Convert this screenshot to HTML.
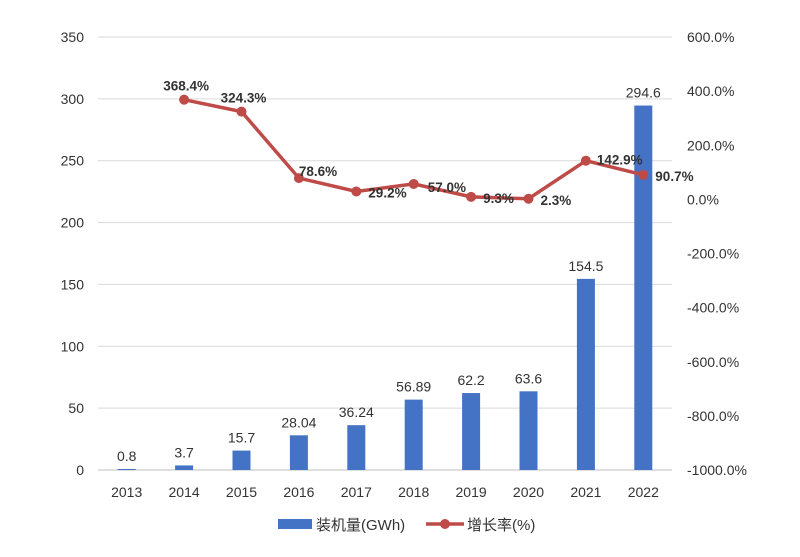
<!DOCTYPE html>
<html><head><meta charset="utf-8"><style>
body{margin:0;background:#fff}
svg text{font-family:"Liberation Sans","Noto Sans CJK SC",sans-serif;fill:#333}
</style></head><body>
<svg id="c" width="800" height="552" viewBox="0 0 800 552"></svg>
<script>
const years=["2013","2014","2015","2016","2017","2018","2019","2020","2021","2022"];
const capacity=[0.8,3.7,15.7,28.04,36.24,56.89,62.2,63.6,154.5,294.6];
const capLabels=["0.8","3.7","15.7","28.04","36.24","56.89","62.2","63.6","154.5","294.6"];
const growth=[null,368.4,324.3,78.6,29.2,57.0,9.3,2.3,142.9,90.7];
const growthLabels=["","368.4%","324.3%","78.6%","29.2%","57.0%","9.3%","2.3%","142.9%","90.7%"];
const leftTicks=[0,50,100,150,200,250,300,350];
const rightTicks=[-1000,-800,-600,-400,-200,0,200,400,600];
const NS="http://www.w3.org/2000/svg";
const svg=document.getElementById('c');
const x0=98,x1=672,yT=37,yB=470;
const bw=(x1-x0)/years.length;
const xc=i=>x0+bw*(i+0.5);
const yL=v=>yB-(v/350)*(yB-yT);
const yR=v=>yB-((v+1000)/1600)*(yB-yT);
function mk(t,a,txt){const e=document.createElementNS(NS,t);for(const k in a)e.setAttribute(k,a[k]);if(txt!=null)e.textContent=txt;svg.appendChild(e);return e;}
leftTicks.forEach(v=>{
 const l=mk('line',{x1:x0,x2:x1,y1:yL(v),y2:yL(v),stroke:v===0?'#bfbfbf':'#d9d9d9','stroke-width':1});
 
 
 const t=mk('text',{x:84,y:yL(v)+5,'text-anchor':'end','font-size':14},String(v));
 
 
});
rightTicks.forEach(v=>{
 const t=mk('text',{x:687,y:yR(v)+5,'font-size':14},v.toFixed(1)+'%');
 
 
});
years.forEach((y,i)=>{
 const t=mk('text',{x:xc(i),y:yB+27,'text-anchor':'middle','font-size':14},y);
 
 
 const b=mk('rect',{x:xc(i)-9,y:yL(capacity[i]),width:18,height:yB-yL(capacity[i]),fill:'#4472c4'});
 
 
 const lb=mk('text',{x:xc(i),y:yL(capacity[i])-8,'text-anchor':'middle','font-size':14},capLabels[i]);
 
 
});
let pts=[];
growth.forEach((g,i)=>{if(g!=null)pts.push([xc(i),yR(g)]);});
const pl=mk('polyline',{points:pts.map(p=>p.join(',')).join(' '),fill:'none',stroke:'#be4b48','stroke-width':3.5});


growth.forEach((g,i)=>{if(g==null)return;
 const c=mk('circle',{cx:xc(i),cy:yR(g),r:5,fill:'#be4b48'});
 
 
 const t=mk('text',{x:xc(i)+2,y:yR(g)-9,'text-anchor':'middle','font-size':13.5,'font-weight':'bold'},growthLabels[i]);
 if(i===4||i===6||i===7||i===9){t.setAttribute('x',xc(i)+12);t.setAttribute('y',yR(g)+6);t.setAttribute('text-anchor','start');}
 if(i===3){t.setAttribute('x',xc(i));t.setAttribute('y',yR(g)-2);t.setAttribute('text-anchor','start');}
 if(i===5){t.setAttribute('x',xc(i)+14);t.setAttribute('y',yR(g)+8);t.setAttribute('text-anchor','start');}
 if(i===8){t.setAttribute('x',xc(i)+11);t.setAttribute('y',yR(g)+4);t.setAttribute('text-anchor','start');}
 
 
});
const lr=mk('rect',{x:278,y:519,width:34,height:10,fill:'#4472c4'});


const lt=mk('text',{x:316,y:530,'font-size':15},'装机量(GWh)');


const ll=mk('line',{x1:426,x2:464,y1:524,y2:524,stroke:'#be4b48','stroke-width':3.5});


const lc=mk('circle',{cx:445,cy:524,r:5,fill:'#be4b48'});


const lt2=mk('text',{x:467,y:530,'font-size':15},'增长率(%)');


</script>
</body></html>
